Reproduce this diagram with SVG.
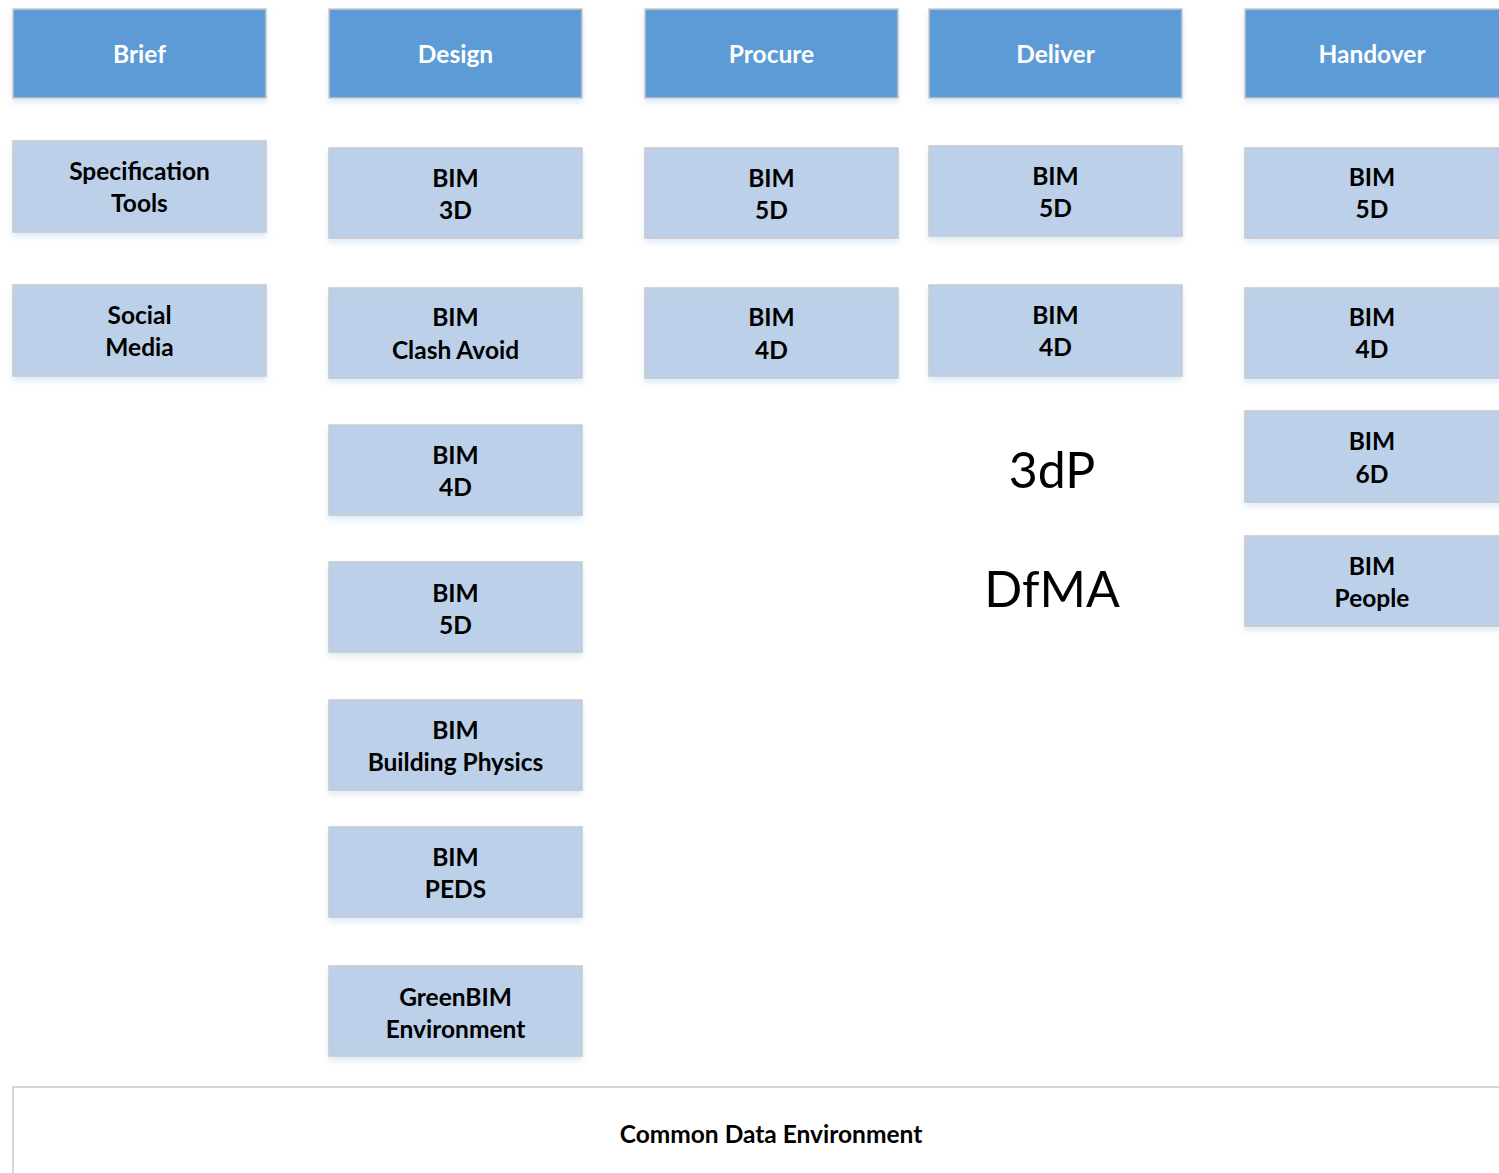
<svg xmlns="http://www.w3.org/2000/svg" width="1499" height="1173" viewBox="0 0 1499 1173">
<style>
.h{fill:#5b9bd5;stroke:#c9c9c9;stroke-width:1.5;filter:url(#sh)}
.b{fill:#bcd0e9;stroke:#c9c9c9;stroke-width:1.5;filter:url(#sh)}
.ht{font-family:Lato,"Open Sans",sans-serif;font-weight:bold;font-size:24.5px;fill:#fff;text-anchor:middle}
.bt{font-family:Lato,"Open Sans",sans-serif;font-weight:bold;font-size:24.5px;fill:#000;text-anchor:middle}
.big{font-family:Lato,"Open Sans",sans-serif;font-size:50px;fill:#000;text-anchor:middle}
</style>
<defs>
<filter id="sh" x="-5%" y="-10%" width="110%" height="130%">
<feDropShadow dx="0" dy="4" stdDeviation="3" flood-color="#9dc3e6" flood-opacity="0.35"/>
</filter>
</defs>
<rect width="1499" height="1173" fill="#fff"/>
<g id="connectors"></g>
<g id="brief"><rect class="h" x="13" y="9" width="253" height="89"/><text class="ht" x="139.5" y="63">Brief</text></g>
<g id="design"><rect class="h" x="329" y="9" width="253" height="89"/><text class="ht" x="455.5" y="63">Design</text></g>
<g id="procure"><rect class="h" x="645" y="9" width="253" height="89"/><text class="ht" x="771.5" y="63">Procure</text></g>
<g id="deliver"><rect class="h" x="929" y="9" width="253" height="89"/><text class="ht" x="1055.5" y="63">Deliver</text></g>
<g id="handover"><rect class="h" x="1245" y="9" width="256" height="89"/><text class="ht" x="1372" y="63">Handover</text></g>

<g id="spec"><rect class="b" x="13" y="141" width="253" height="91"/><text class="bt" x="139.5" y="180">Specification</text><text class="bt" x="139.5" y="212">Tools</text></g>
<g id="social"><rect class="b" x="13" y="285" width="253" height="91"/><text class="bt" x="139.5" y="324">Social</text><text class="bt" x="139.5" y="356">Media</text></g>

<g id="d3d"><rect class="b" x="329" y="148" width="253" height="90"/><text class="bt" x="455.5" y="187">BIM</text><text class="bt" x="455.5" y="219">3D</text></g>
<g id="dclash"><rect class="b" x="329" y="288" width="253" height="90"/><text class="bt" x="455.5" y="326">BIM</text><text class="bt" x="455.5" y="359">Clash Avoid</text></g>
<g id="d4d"><rect class="b" x="329" y="425" width="253" height="90"/><text class="bt" x="455.5" y="464">BIM</text><text class="bt" x="455.5" y="496">4D</text></g>
<g id="d5d"><rect class="b" x="329" y="562" width="253" height="90"/><text class="bt" x="455.5" y="602">BIM</text><text class="bt" x="455.5" y="634">5D</text></g>
<g id="dphys"><rect class="b" x="329" y="700" width="253" height="90"/><text class="bt" x="455.5" y="739">BIM</text><text class="bt" x="455.5" y="771">Building Physics</text></g>
<g id="dpeds"><rect class="b" x="329" y="827" width="253" height="90"/><text class="bt" x="455.5" y="866">BIM</text><text class="bt" x="455.5" y="898">PEDS</text></g>
<g id="dgreen"><rect class="b" x="329" y="966" width="253" height="90"/><text class="bt" x="455.5" y="1006">GreenBIM</text><text class="bt" x="455.5" y="1038">Environment</text></g>

<g id="p5d"><rect class="b" x="645" y="148" width="253" height="90"/><text class="bt" x="771.5" y="187">BIM</text><text class="bt" x="771.5" y="219">5D</text></g>
<g id="p4d"><rect class="b" x="645" y="288" width="253" height="90"/><text class="bt" x="771.5" y="326">BIM</text><text class="bt" x="771.5" y="359">4D</text></g>

<g id="v5d"><rect class="b" x="929" y="146" width="253" height="90"/><text class="bt" x="1055.5" y="185">BIM</text><text class="bt" x="1055.5" y="217">5D</text></g>
<g id="v4d"><rect class="b" x="929" y="285" width="253" height="91"/><text class="bt" x="1055.5" y="324">BIM</text><text class="bt" x="1055.5" y="356">4D</text></g>
<g id="t3dp"><text class="big" x="1052" y="488">3dP</text></g>
<g id="tdfma"><text class="big" x="1052" y="607">DfMA</text></g>

<g id="h5d"><rect class="b" x="1245" y="148" width="256" height="90"/><text class="bt" x="1372" y="186">BIM</text><text class="bt" x="1372" y="218">5D</text></g>
<g id="h4d"><rect class="b" x="1245" y="288" width="256" height="90"/><text class="bt" x="1372" y="326">BIM</text><text class="bt" x="1372" y="358">4D</text></g>
<g id="h6d"><rect class="b" x="1245" y="411" width="256" height="91"/><text class="bt" x="1372" y="450">BIM</text><text class="bt" x="1372" y="483">6D</text></g>
<g id="hpeople"><rect class="b" x="1245" y="536" width="256" height="90"/><text class="bt" x="1372" y="575">BIM</text><text class="bt" x="1372" y="607">People</text></g>

<g id="cde"><rect x="13" y="1087" width="1500" height="100" fill="#fff" stroke="#c9c9c9" stroke-width="1.5"/><text class="bt" x="771" y="1143">Common Data Environment</text></g>
</svg>
